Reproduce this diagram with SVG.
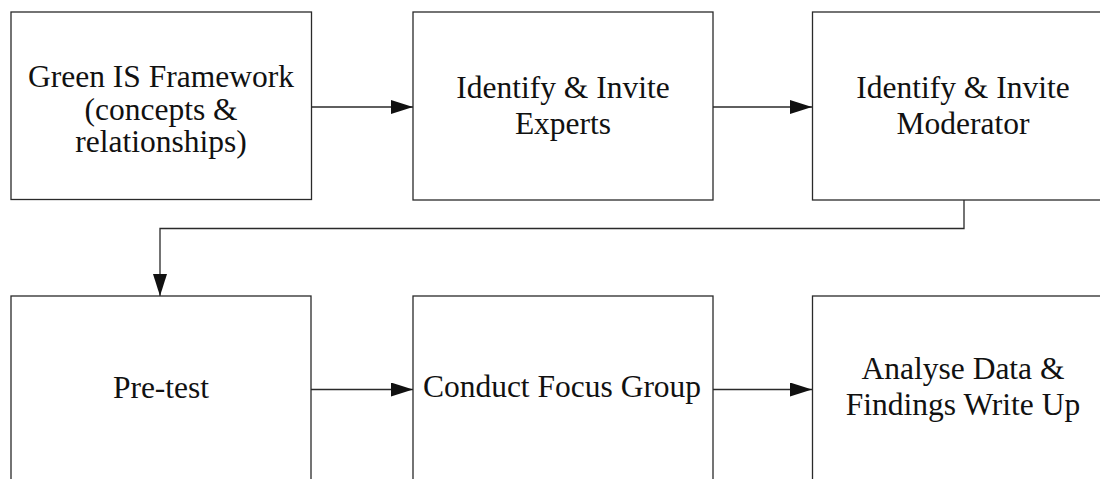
<svg xmlns="http://www.w3.org/2000/svg" width="1100" height="479" viewBox="0 0 1100 479">
  <style>
    .box { fill: #ffffff; stroke: #2a2a2a; stroke-width: 1.3; }
    .lbl { font-family: "Liberation Serif", "Times New Roman", serif; font-size: 31.5px; fill: #111111; text-anchor: middle; }
    .wire { fill: none; stroke: #2a2a2a; stroke-width: 1.3; }
  </style>
  <defs>
    <marker id="arrow" viewBox="0 0 22 14" refX="22" refY="7" markerWidth="22" markerHeight="14" markerUnits="userSpaceOnUse" orient="auto">
      <path d="M0,0 L22,7 L0,14 Z" fill="#111111"/>
    </marker>
  </defs>
  <rect width="1100" height="479" fill="#ffffff"/>

  <g id="connectors">
    <line class="wire" x1="312" y1="107" x2="413" y2="107" marker-end="url(#arrow)"/>
    <line class="wire" x1="713" y1="107" x2="812" y2="107" marker-end="url(#arrow)"/>
    <polyline class="wire" points="964,200 964,228.5 160,228.5 160,296" marker-end="url(#arrow)"/>
    <line class="wire" x1="311" y1="389.5" x2="413" y2="389.5" marker-end="url(#arrow)"/>
    <line class="wire" x1="713" y1="389.5" x2="812" y2="389.5" marker-end="url(#arrow)"/>
  </g>

  <g id="green-is-framework">
    <rect class="box" x="11" y="12" width="300.5" height="187.5"/>
    <text class="lbl" x="161" y="87">Green IS Framework</text>
    <text class="lbl" x="161" y="120">(concepts &amp;</text>
    <text class="lbl" x="161" y="152">relationships)</text>
  </g>

  <g id="invite-experts">
    <rect class="box" x="413" y="12" width="300" height="188"/>
    <text class="lbl" x="563" y="97.5">Identify &amp; Invite</text>
    <text class="lbl" x="563" y="134">Experts</text>
  </g>

  <g id="invite-moderator">
    <rect class="box" x="812.5" y="12" width="300" height="188"/>
    <text class="lbl" x="963" y="97.5">Identify &amp; Invite</text>
    <text class="lbl" x="963" y="134">Moderator</text>
  </g>

  <g id="pre-test">
    <rect class="box" x="11" y="296" width="300" height="200"/>
    <text class="lbl" x="161" y="398">Pre-test</text>
  </g>

  <g id="focus-group">
    <rect class="box" x="413" y="296" width="300" height="200"/>
    <text class="lbl" x="562" y="397">Conduct Focus Group</text>
  </g>

  <g id="analyse-data">
    <rect class="box" x="812.5" y="296" width="300" height="200"/>
    <text class="lbl" x="963" y="379">Analyse Data &amp;</text>
    <text class="lbl" x="963" y="415">Findings Write Up</text>
  </g>
</svg>
